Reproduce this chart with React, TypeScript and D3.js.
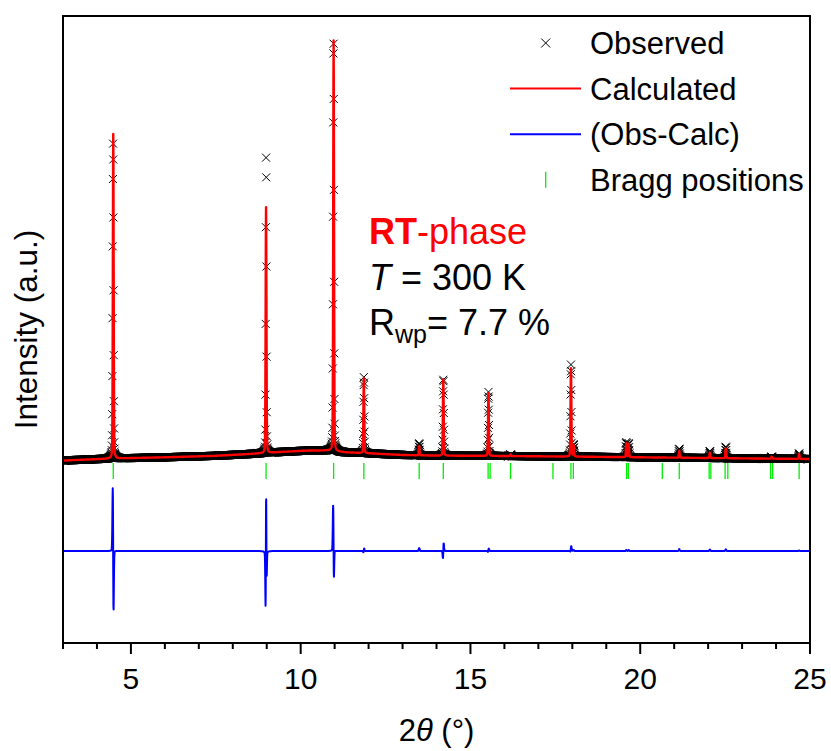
import React, { useMemo } from 'react';
import * as d3 from 'd3';

// ---------- data ----------
const xMajorTicks = [5, 10, 15, 20, 25];
const xMinorTicks = [3, 4, 6, 7, 8, 9, 11, 12, 13, 14, 16, 17, 18, 19, 21, 22, 23, 24];

// background (2θ, intensity)
const bgTheta = [3, 4.5, 6, 7.5, 8.5, 9.5, 10.2, 10.8, 11.3, 12, 13, 14, 16, 18, 20, 22.5, 25];
const bgIntensity = [1825, 1845, 1857, 1872, 1890, 1912, 1924, 1925, 1907, 1897, 1880, 1874, 1870, 1864, 1857, 1848, 1840];

// reflections (calculated and observed profiles)
const peakPos = [4.48, 8.98, 10.97, 11.86, 13.49, 14.2, 15.53, 16.18, 17.96, 18.04, 19.59, 19.66, 21.15, 22.05, 22.52, 23.87, 24.68];
const calcHeight = [3245, 2457, 4107, 750, 90, 764, 627, 15, 884, 110, 140, 130, 70, 55, 97, 20, 50];
const calcSigma = [0.012, 0.012, 0.012, 0.012, 0.012, 0.012, 0.012, 0.012, 0.012, 0.012, 0.012, 0.012, 0.012, 0.012, 0.012, 0.012, 0.012];
const obsHeight = [3160, 3000, 4120, 760, 120, 770, 640, 15, 920, 120, 150, 140, 90, 70, 115, 20, 55];
const obsShift = [-0.004, 0.0015, -0.0018, 0.0005, 0, 0.002, 0.0005, 0, 0.0005, 0, 0, 0, 0, 0, 0, 0, 0];
const obsSigma = [0.0125, 0.0088, 0.0125, 0.012, 0.012, 0.012, 0.012, 0.012, 0.012, 0.012, 0.012, 0.012, 0.012, 0.012, 0.012, 0.012, 0.012];
const peakEta = 0.2;

// Bragg reflection positions
const braggPos = [4.48, 8.98, 10.97, 11.86, 13.49, 14.2, 15.52, 15.58, 16.18, 17.43, 17.96, 18.03, 19.6, 19.65, 20.65, 21.15, 22.03, 22.08, 22.5, 22.58, 23.84, 23.9, 24.68];

const legendLabels = ['Observed', 'Calculated', '(Obs-Calc)', 'Bragg positions'];

const X_DOMAIN: [number, number] = [3, 25];
const Y_DOMAIN: [number, number] = [0, 6270];
const SCAN_START = 3;
const SCAN_END = 25;
const SCAN_STEP = 0.005;
const DIFF_OFFSET = 920;

// ---------- layout ----------
const W = 831;
const H = 751;
const L = 63, R = 810, T = 16, B = 643;
const FONT = '"Liberation Sans", Arial, Helvetica, sans-serif';

function pv(x: number, pos: number, h: number, s: number) {
  const u = (x - pos) / s;
  if (Math.abs(u) > 400) return 0;
  const g = Math.exp(-0.5 * u * u);
  const lw = 1.1774 * s;
  const v = (x - pos) / lw;
  const l = 1 / (1 + v * v);
  return h * ((1 - peakEta) * g + peakEta * l);
}

type Pt = { t: number; o: number; c: number };

export default function App() {
  const x = d3.scaleLinear().domain(X_DOMAIN).range([L, R]);
  const y = d3.scaleLinear().domain(Y_DOMAIN).range([B, T]);
  const bg = d3.scaleLinear().domain(bgTheta).range(bgIntensity);

  const pts = useMemo(() => {
    const n = Math.round((SCAN_END - SCAN_START) / SCAN_STEP);
    const out: Pt[] = [];
    for (let i = 0; i <= n; i++) {
      const t = SCAN_START + i * SCAN_STEP;
      const b = bg(t);
      let c = b;
      let o = b;
      for (let k = 0; k < peakPos.length; k++) {
        c += pv(t, peakPos[k], calcHeight[k], calcSigma[k]);
        o += pv(t, peakPos[k] + obsShift[k], obsHeight[k], obsSigma[k]);
      }
      out.push({ t, o, c });
    }
    return out;
  }, []);

  const crossPath = useMemo(() => {
    const s = 4;
    const parts: string[] = [];
    for (const p of pts) {
      const px = x(p.t);
      const py = y(p.o);
      parts.push(`M${(px - s).toFixed(2)},${(py - s).toFixed(2)}L${(px + s).toFixed(2)},${(py + s).toFixed(2)}M${(px - s).toFixed(2)},${(py + s).toFixed(2)}L${(px + s).toFixed(2)},${(py - s).toFixed(2)}`);
    }
    return parts.join('');
  }, [pts]);

  const calcLine = d3.line<Pt>()
    .x((d) => x(d.t))
    .y((d) => y(d.c))(pts) || '';
  const diffLine = d3.line<Pt>()
    .x((d) => x(d.t))
    .y((d) => y(DIFF_OFFSET + d.o - d.c))(pts) || '';

  const legendY = [43, 88.5, 134.3, 179.7];

  return (
    <svg width={W} height={H} style={{ position: 'absolute', left: 0, top: 0, background: '#fff' }} fontFamily={FONT}>
      <rect x={0} y={0} width={W} height={H} fill="#fff" />
      <defs>
        <clipPath id="plotclip">
          <rect x={L} y={T} width={R - L} height={B - T} />
        </clipPath>
      </defs>
      <g clipPath="url(#plotclip)">
        <path d={crossPath} stroke="#000" strokeWidth={1} fill="none" />
        <path d={calcLine} stroke="#ff0000" strokeWidth={2.4} fill="none" strokeLinejoin="round" />
        {braggPos.map((b, i) => (
          <line key={i} x1={x(b)} x2={x(b)} y1={463} y2={479} stroke="#00ee00" strokeWidth={1.3} />
        ))}
        <path d={diffLine} stroke="#0000ff" strokeWidth={2} fill="none" strokeLinejoin="round" />
      </g>

      {/* frame */}
      <rect x={L} y={T} width={R - L} height={B - T} fill="none" stroke="#000" strokeWidth={2} />

      {/* x ticks */}
      {xMinorTicks.map((t) => (
        <line key={'m' + t} x1={x(t)} x2={x(t)} y1={B} y2={B + 6} stroke="#000" strokeWidth={2} />
      ))}
      {xMajorTicks.map((t) => (
        <line key={'M' + t} x1={x(t)} x2={x(t)} y1={B} y2={B + 11} stroke="#000" strokeWidth={2} />
      ))}
      {xMajorTicks.map((t) => (
        <text key={'l' + t} x={x(t)} y={689} textAnchor="middle" fontSize={30} fill="#000">{t}</text>
      ))}

      {/* axis titles */}
      <text x={(L + R) / 2} y={741} textAnchor="middle" fontSize={31} fill="#000">
        2<tspan fontStyle="italic">θ</tspan> (°)
      </text>
      <text transform={`translate(37, ${(T + B) / 2}) rotate(-90)`} textAnchor="middle" fontSize={31.5} fill="#000">
        Intensity (a.u.)
      </text>

      {/* legend */}
      <g>
        <path d={`M${545.7 - 4.5},${legendY[0] - 4.5}L${545.7 + 4.5},${legendY[0] + 4.5}M${545.7 - 4.5},${legendY[0] + 4.5}L${545.7 + 4.5},${legendY[0] - 4.5}`} stroke="#000" strokeWidth={1} />
        <line x1={510} x2={581} y1={legendY[1]} y2={legendY[1]} stroke="#ff0000" strokeWidth={2} />
        <line x1={510} x2={581} y1={legendY[2]} y2={legendY[2]} stroke="#0000ff" strokeWidth={2} />
        <line x1={545.7} x2={545.7} y1={legendY[3] - 8} y2={legendY[3] + 8} stroke="#00ee00" strokeWidth={1.3} />
        {legendLabels.map((lab, i) => (
          <text key={lab} x={590} y={legendY[i] + 11} fontSize={31} fill="#000">{lab}</text>
        ))}
      </g>

      {/* annotation */}
      <text x={369} y={244} fontSize={36} fill="#ff0000">
        <tspan fontWeight="bold">RT</tspan>-phase
      </text>
      <text x={369} y={289.5} fontSize={36} fill="#000">
        <tspan fontStyle="italic">T</tspan> = 300 K
      </text>
      <text x={369} y={335} fontSize={36} fill="#000">
        R<tspan fontSize={25} dy={8}>wp</tspan><tspan dy={-8}>= 7.7 %</tspan>
      </text>
    </svg>
  );
}
